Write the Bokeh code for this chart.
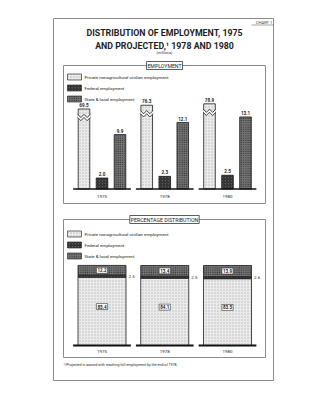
from bokeh.plotting import figure
from bokeh.models import Range1d
from bokeh.core.properties import value
from bokeh.embed import file_html
from bokeh.resources import INLINE
import numpy as np

# ---------------- data ----------------
years = ["1975", "1978", "1980"]
private = [69.5, 76.3, 78.9]
federal = [2.0, 2.3, 2.5]
state_local = [9.9, 12.1, 13.1]
private_labels = ["69.5", "76.3", "78.9"]
federal_labels = ["2.0", "2.3", "2.5"]
state_labels = ["9.9", "12.1", "13.1"]

pct_private = [85.4, 84.1, 83.5]
pct_federal = [2.5, 2.5, 2.6]
pct_state = [12.2, 13.4, 13.9]
pct_private_labels = ["85.4", "84.1", "83.5"]
pct_federal_labels = ["2.5", "2.5", "2.6"]
pct_state_labels = ["12.2", "13.4", "13.9"]

series_names = ["Private nonagricultural civilian employment",
                "Federal employment",
                "State & local employment"]
title_line1 = "DISTRIBUTION OF EMPLOYMENT, 1975"
title_line2 = "AND PROJECTED,\u00b9 1978 AND 1980"
units = "(millions)"
panel1_title = "EMPLOYMENT"
panel2_title = "PERCENTAGE DISTRIBUTION"
chart_tag = "CHART 1"
footnote = "\u00b9/Projected in accord with reaching full employment by the end of 1978."

# ---------------- styles ----------------
FONT = value("Roboto")
INK = "#1e1e1e"
STY = [
    dict(fill_color="#ebebeb", hatch_pattern="dot", hatch_color="#b8b8b8", hatch_scale=3, hatch_weight=0.5),
    dict(fill_color="#5a5a5a", hatch_pattern="right_diagonal_line", hatch_color="#111111", hatch_scale=3, hatch_weight=0.8),
    dict(fill_color="#747474", hatch_pattern="dot", hatch_color="#1c1c1c", hatch_scale=2.2, hatch_weight=0.9),
]

p = figure(width=310, height=400, output_backend="svg", toolbar_location=None,
           x_range=Range1d(0, 310), y_range=Range1d(400, 0),
           x_axis_location=None, y_axis_location=None, min_border=0,
           background_fill_color="white", border_fill_color="white")
p.outline_line_color = None
p.grid.visible = False

# group scale (shared by both panels), employment scale, percent scale
p.extra_x_ranges = {"g": Range1d(-101.5 / 62.75, (310 - 101.5) / 62.75)}
p.extra_y_ranges = {"emp": Range1d(-(400 - 188.5) / 5.5, 188.5 / 5.5),
                    "pct": Range1d(-(400 - 345) / 0.8, 345 / 0.8)}

# ---------------- page frame & titles ----------------
p.quad(left=[53], right=[273], top=[18], bottom=[380], fill_color=None, line_color="#8a8a8a", line_width=1)
p.text(x=[272], y=[24], text=[chart_tag], text_font=FONT, text_font_size="4.2px",
       text_align="right", text_baseline="bottom", text_color="#444")
p.segment(x0=[251], x1=[273], y0=[24.5], y1=[24.5], line_color="#666", line_width=0.6)
p.text(x=[164], y=[32.5], text=[title_line1], text_font=FONT, text_font_style="bold",
       text_font_size="8.8px", text_align="center", text_baseline="alphabetic", text_color=INK)
p.text(x=[164], y=[45], text=[title_line2], text_font=FONT, text_font_style="bold",
       text_font_size="8.8px", text_align="center", text_baseline="alphabetic", text_color=INK)
p.text(x=[164], y=[51.5], text=[units], text_font=FONT, text_font_size="3.8px",
       text_align="center", text_baseline="middle", text_color="#333")

# ---------------- panel boxes ----------------
for (top, bot, ttl, ty) in [(65, 203, panel1_title, 65), (219, 357, panel2_title, 219)]:
    p.quad(left=[63], right=[265], top=[top], bottom=[bot], fill_color=None,
           line_color="#8a8a8a", line_width=1)
    p.text(x=[164], y=[ty], text=[ttl], text_font=FONT, text_font_size="5.2px",
           text_align="center", text_baseline="middle", text_color=INK,
           background_fill_color="white", border_line_color="#333", border_line_width=0.8,
           padding=1)

# legends
for ly in (76.5, 233.5):
    for k, name in enumerate(series_names):
        yc = ly + k * 11
        p.quad(left=[67], right=[81], top=[yc - 3], bottom=[yc + 3], line_color="#333",
               line_width=0.7, **STY[k])
        p.text(x=[84], y=[yc], text=[name], text_font=FONT, text_font_size="4.4px",
               text_align="left", text_baseline="middle", text_color="#222")

# ---------------- top panel: employment ----------------
idx = np.arange(len(years))
off = 0.287
bw = 0.185
# broken-scale private bars (axis break shown by zigzag)
private_disp = [13.6 + (v - 60) * 0.1 for v in private]
tops = [private_disp, federal, state_local]
labels = [private_labels, federal_labels, state_labels]
for k in range(3):
    xs = idx + (k - 1) * off
    p.vbar(x=xs, width=bw, bottom=0, top=tops[k], x_range_name="g", y_range_name="emp",
           line_color=INK, line_width=0.8, **STY[k])
    p.text(x=xs, y=np.array(tops[k]) + 0.35, text=labels[k], x_range_name="g", y_range_name="emp",
           text_font=FONT, text_font_style="bold", text_font_size="4.6px", text_align="center",
           text_baseline="bottom", text_color=INK)

# zigzag break on private bars
zx, zy = [], []
zig = np.array([-0.5, -0.25, 0.0, 0.25, 0.5])
amp = np.array([0.3, -0.3, 0.3, -0.3, 0.3])
for i, t in zip(idx, private_disp):
    xx = (i - off) + zig * bw * 1.08
    base = t - 1.55
    hi = base + 0.28 + amp
    lo = base - 0.28 + amp
    zx.append(list(xx) + list(xx[::-1]))
    zy.append(list(hi) + list(lo[::-1]))
p.patches(xs=zx, ys=zy, x_range_name="g", y_range_name="emp", fill_color="white", line_color=None)
for i, t in zip(idx, private_disp):
    xx = (i - off) + zig * bw * 1.08
    base = t - 1.55
    p.line(x=xx, y=base + 0.28 + amp, x_range_name="g", y_range_name="emp", line_color=INK, line_width=0.8)
    p.line(x=xx, y=base - 0.28 + amp, x_range_name="g", y_range_name="emp", line_color=INK, line_width=0.8)

p.segment(x0=idx - 0.46, x1=idx + 0.46, y0=0, y1=0, x_range_name="g", y_range_name="emp",
          line_color="#111", line_width=1.6)
p.text(x=idx, y=[196] * 3, text=years, x_range_name="g", text_font=FONT, text_font_size="4.4px",
       text_align="center", text_baseline="middle", text_color="#222")

# ---------------- bottom panel: percentage ----------------
pw = 0.765
b0 = np.zeros(3)
b1 = np.array(pct_private)
b2 = b1 + np.array(pct_federal)
b3 = b2 + np.array(pct_state)
for k, (bot, top) in enumerate([(b0, b1), (b1, b2), (b2, b3)]):
    p.vbar(x=idx, width=pw, bottom=bot, top=top, x_range_name="g", y_range_name="pct",
           line_color=INK, line_width=0.8, **STY[k])
p.text(x=idx, y=(b2 + b3) / 2, text=pct_state_labels, x_range_name="g", y_range_name="pct",
       text_font=FONT, text_font_style="bold", text_font_size="4.6px", text_align="center",
       text_baseline="middle", text_color=INK, background_fill_color="white",
       border_line_color="#333", border_line_width=0.6, padding=1)
p.text(x=idx, y=b1 * 0.57, text=pct_private_labels, x_range_name="g", y_range_name="pct",
       text_font=FONT, text_font_style="bold", text_font_size="4.6px", text_align="center",
       text_baseline="middle", text_color=INK, background_fill_color="white",
       border_line_color="#333", border_line_width=0.6, padding=1)
p.text(x=idx + pw / 2 + 0.04, y=(b1 + b2) / 2, text=pct_federal_labels, x_range_name="g",
       y_range_name="pct", text_font=FONT, text_font_size="4.4px", text_align="left",
       text_baseline="middle", text_color=INK)
p.segment(x0=idx - 0.46, x1=idx + 0.46, y0=0, y1=0, x_range_name="g", y_range_name="pct",
          line_color="#111", line_width=1.8)
p.text(x=idx, y=[350.5] * 3, text=years, x_range_name="g", text_font=FONT, text_font_size="4.4px",
       text_align="center", text_baseline="middle", text_color="#222")

# footnote
p.text(x=[63], y=[364], text=[footnote], text_font=FONT, text_font_size="3.6px",
       text_align="left", text_baseline="middle", text_color="#222")

open("out.html", "w").write(file_html(p, INLINE))
